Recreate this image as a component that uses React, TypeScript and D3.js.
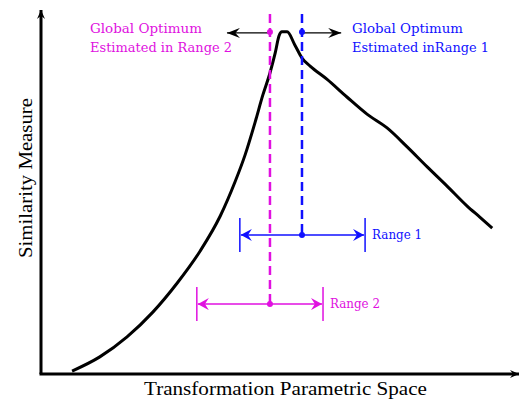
import React, { useEffect, useRef } from "react";
import * as d3 from "d3";

// similarity curve (x, y in 0..100 axis units)
const curveX = [6.5, 12.3, 18.0, 23.4, 28.5, 33.3, 37.5, 40.6, 42.7, 44.8, 46.4, 47.9, 49.0, 49.8, 50.4, 51.5, 53.1, 54.6, 56.3, 59.8, 64.0, 68.2, 72.4, 76.6, 80.8, 84.9, 89.1, 91.8, 94.4];
const curveY = [0.8, 4.7, 10.2, 17.0, 25.0, 33.8, 43.4, 52.8, 60.2, 69.2, 76.6, 82.7, 88.2, 92.9, 94.0, 94.0, 90.4, 86.8, 84.6, 81.0, 76.1, 71.4, 67.6, 62.4, 56.9, 51.7, 46.2, 43.1, 40.1];

// estimated optimum positions
const optimumNames = ["Range 1", "Range 2"];
const optimumX = [54.6, 47.9];
const rangeLeft = [41.6, 32.6];
const rangeRight = [67.8, 59.0];
const rangeLevel = [38.2, 19.2];
const optimumArrowTip = [62.8, 38.9];
const optimumLabels = [
  ["Global Optimum", "Estimated inRange 1"],
  ["Global Optimum", "Estimated in Range 2"],
];
const colors = ["#1010ff", "#e010e0"];

const xTitle = "Transformation Parametric Space";
const yTitle = "Similarity Measure";

const W = 520;
const H = 403;

export default function App() {
  const svgRef = useRef<SVGSVGElement>(null);

  useEffect(() => {
    const svg = d3.select(svgRef.current);
    svg.selectAll("*").remove();

    const x = d3.scaleLinear().domain([0, 100]).range([41, 519]);
    const y = d3.scaleLinear().domain([0, 100]).range([374, 10]);

    const defs = svg.append("defs");
    const addMarker = (id: string, color: string, len: number, half: number) => {
      defs
        .append("marker")
        .attr("id", id)
        .attr("viewBox", `${-len} ${-half} ${len} ${half * 2}`)
        .attr("refX", 0)
        .attr("refY", 0)
        .attr("markerUnits", "userSpaceOnUse")
        .attr("markerWidth", len)
        .attr("markerHeight", half * 2)
        .attr("orient", "auto")
        .append("path")
        .attr("d", `M0,0 L${-len},${-half} L${-len * 0.65},0 L${-len},${half} Z`)
        .attr("fill", color);
    };
    addMarker("ax", "#000", 9, 4);
    addMarker("blk", "#000", 13, 5);
    colors.forEach((c, i) => addMarker(`rg${i}`, c, 11, 6));

    const ann = "'DejaVu Serif', serif";

    // axes
    svg
      .append("path")
      .attr("d", `M${x(0)},${y(0)} L${x(0)},${y(100)}`)
      .attr("stroke", "#000")
      .attr("stroke-width", 3)
      .attr("marker-end", "url(#ax)");
    svg
      .append("path")
      .attr("d", `M${x(0) - 1.5},${y(0)} L${x(100)},${y(0)}`)
      .attr("stroke", "#000")
      .attr("stroke-width", 3)
      .attr("marker-end", "url(#ax)");

    svg
      .append("text")
      .attr("x", 285.5)
      .attr("y", 395)
      .attr("text-anchor", "middle")
      .attr("font-family", "'Liberation Serif', serif")
      .attr("font-size", 19)
      .attr("textLength", 283)
      .attr("lengthAdjust", "spacingAndGlyphs")
      .text(xTitle);
    svg
      .append("text")
      .attr("transform", "translate(32,178) rotate(-90)")
      .attr("text-anchor", "middle")
      .attr("font-family", "'Liberation Serif', serif")
      .attr("font-size", 19)
      .attr("textLength", 160)
      .attr("lengthAdjust", "spacingAndGlyphs")
      .text(yTitle);

    // curve
    const pts = curveX.map((v, i) => [v, curveY[i]] as [number, number]);
    svg
      .append("path")
      .attr(
        "d",
        d3
          .line()
          .x((d) => x(d[0]))
          .y((d) => y(d[1]))
          .curve(d3.curveMonotoneX)(pts)
      )
      .attr("fill", "none")
      .attr("stroke", "#000")
      .attr("stroke-width", 3)
      .attr("stroke-linejoin", "round");

    optimumNames.forEach((name, i) => {
      const c = colors[i];
      const ox = x(optimumX[i]);
      const ly = y(rangeLevel[i]);
      const topY = y(93.7);

      // dashed line
      svg
        .append("line")
        .attr("x1", ox)
        .attr("x2", ox)
        .attr("y1", y(98.9))
        .attr("y2", ly)
        .attr("stroke", c)
        .attr("stroke-width", 2.5)
        .attr("stroke-dasharray", "9,5");

      // top arrow
      svg
        .append("line")
        .attr("x1", ox)
        .attr("x2", x(optimumArrowTip[i]))
        .attr("y1", topY)
        .attr("y2", topY)
        .attr("stroke", "#000")
        .attr("stroke-width", 1.3)
        .attr("marker-end", "url(#blk)");
      svg.append("circle").attr("cx", ox).attr("cy", topY - 1).attr("r", 3).attr("fill", c);

      // range bar
      const xl = x(rangeLeft[i]);
      const xr = x(rangeRight[i]);
      [xl, xr].forEach((tx) =>
        svg
          .append("line")
          .attr("x1", tx)
          .attr("x2", tx)
          .attr("y1", ly - 17)
          .attr("y2", ly + 17)
          .attr("stroke", c)
          .attr("stroke-width", 1.5)
      );
      [xl + 1, xr - 1].forEach((tx) =>
        svg
          .append("line")
          .attr("x1", ox)
          .attr("x2", tx)
          .attr("y1", ly)
          .attr("y2", ly)
          .attr("stroke", c)
          .attr("stroke-width", 1.5)
          .attr("marker-end", `url(#rg${i})`)
      );
      svg.append("circle").attr("cx", ox).attr("cy", ly).attr("r", 3).attr("fill", c);

      svg
        .append("text")
        .attr("x", xr + 7)
        .attr("y", ly + 4)
        .attr("fill", c)
        .attr("font-family", ann)
        .attr("font-size", 12)
        .attr("textLength", 50)
        .attr("lengthAdjust", "spacingAndGlyphs")
        .text(name);

      // optimum label
      const lx = i === 0 ? 352 : 90;
      const widths = i === 0 ? [111, 137] : [112, 142];
      optimumLabels[i].forEach((t, k) =>
        svg
          .append("text")
          .attr("x", lx)
          .attr("y", 33 + k * 19)
          .attr("fill", c)
          .attr("font-family", ann)
          .attr("font-size", 12)
          .attr("textLength", widths[k])
          .attr("lengthAdjust", "spacingAndGlyphs")
          .text(t)
      );
    });
  }, []);

  return (
    <svg
      ref={svgRef}
      width={W}
      height={H}
      style={{ position: "absolute", left: 0, top: 0, background: "#fff" }}
    />
  );
}
